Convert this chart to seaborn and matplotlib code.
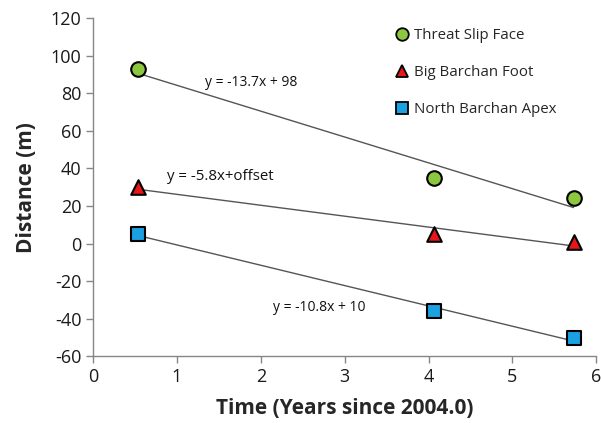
import matplotlib
matplotlib.use("Agg")
import matplotlib.pyplot as plt
import seaborn as sns
import numpy as np

time = [0.53, 4.06, 5.73]
threat_slip_face = [93, 35, 24]
big_barchan_foot = [30, 5, 1]
north_barchan_apex = [5, -36, -50.5]

series_names = ["Threat Slip Face", "Big Barchan Foot", "North Barchan Apex"]
equations = ["y = -13.7x + 98", "y = -5.8x+offset", "y = -10.8x + 10"]

sns.set_theme(style="white")
plt.rcParams['font.family'] = ['Open Sans', 'DejaVu Sans']
plt.rcParams['axes.unicode_minus'] = False

fig = plt.figure(figsize=(6.01, 4.23), dpi=100)
ax = fig.add_axes([0.155, 0.158, 0.837, 0.799])

styles = [
    dict(marker="o", color="#8dc63f"),
    dict(marker="^", color="#e8151b"),
    dict(marker="s", color="#1ba1e2"),
]
data = [threat_slip_face, big_barchan_foot, north_barchan_apex]
handles = []
for name, ys, st in zip(series_names, data, styles):
    sns.regplot(x=time, y=ys, ci=None, truncate=True, ax=ax, marker=st["marker"],
                scatter_kws=dict(s=110, color=st["color"], edgecolors="black",
                                 linewidths=1.5, zorder=3, alpha=1),
                line_kws=dict(color="#555555", lw=1.0, zorder=2))
    handles.append(plt.Line2D([], [], ls="none", marker=st["marker"], markersize=9,
                              markerfacecolor=st["color"], markeredgecolor="black",
                              markeredgewidth=1.3, label=name))

ax.text(1.34, 85.5, equations[0], fontsize=10, va="center", ha="left", color="#111111")
ax.text(0.88, 35.5, equations[1], fontsize=10.8, va="center", ha="left", color="#111111")
ax.text(2.15, -34, equations[2], fontsize=10, va="center", ha="left", color="#111111")

ax.set_xlim(0, 6)
ax.set_ylim(-60, 120)
ax.set_xticks(range(0, 7))
ax.set_yticks(range(-60, 121, 20))
ax.tick_params(axis="both", labelsize=13, direction="out", length=5, width=1,
               bottom=True, left=True, color="#868686", labelcolor="#1a1a1a")
for s in ["top", "right"]:
    ax.spines[s].set_visible(False)
for s in ["left", "bottom"]:
    ax.spines[s].set_color("#868686")
    ax.spines[s].set_linewidth(1.0)

ax.set_xlabel("Time (Years since 2004.0)", fontsize=15, fontweight="bold", labelpad=9)
ax.set_ylabel("Distance (m)", fontsize=15, fontweight="bold", labelpad=10)

ax.legend(handles=handles, loc="upper left", bbox_to_anchor=(0.57, 1.01), frameon=False,
          fontsize=10.8, labelspacing=1.45, handletextpad=0.2, handlelength=1.2)

fig.savefig("out.png", dpi=100)
